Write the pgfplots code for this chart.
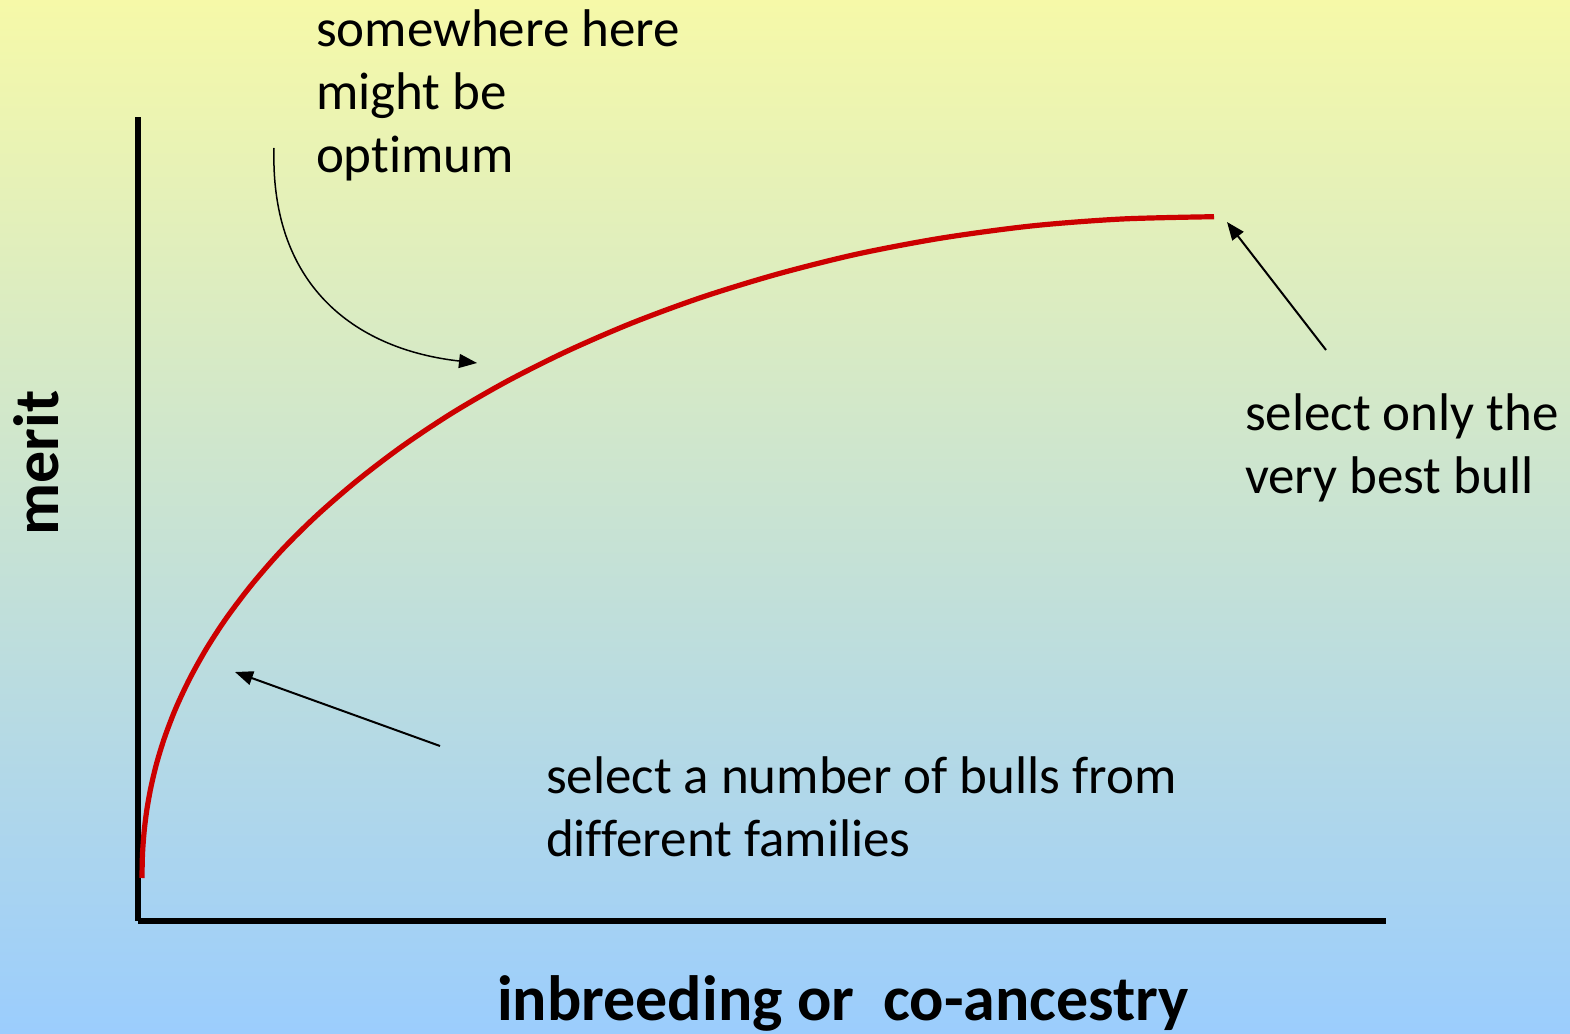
\documentclass[border=0pt]{standalone}
\usepackage{pgfplots}
\pgfplotsset{compat=1.18}
\usetikzlibrary{arrows.meta}
\usepackage{fontspec}
\setmainfont[Ligatures=NoCommon]{Carlito}
\definecolor{bgtop}{RGB}{246,249,168}
\definecolor{bgbot}{RGB}{155,205,253}
\definecolor{curvered}{RGB}{204,0,0}
\begin{document}
\begin{tikzpicture}
\useasboundingbox (0,0) rectangle (785pt,517pt);
\clip (0,0) rectangle (785pt,517pt);
\shade[top color=bgtop,bottom color=bgbot] (0,0) rectangle (785pt,517pt);
\begin{axis}[at={(69pt,56.5pt)}, anchor=south west, scale only axis,
  width=624pt, height=402pt, xmin=0, xmax=1248, ymin=0, ymax=804,
  axis x line=bottom, axis y line=left,
  x axis line style={-}, y axis line style={-},
  axis line style={line width=3pt, black},
  ticks=none, clip=false]
\addplot[curvered, line width=2.6pt, smooth] coordinates {
(4,43) (4.3,61.4) (5,75.5) (6.5,93) (9,112.2) (13,134.2) (19,159)
(27,184.7) (38,213.2) (52,242.9) (69,273.3) (89,303.8) (114,336.7)
(144,371.1) (179,405.7) (219,440.3) (264,474.6) (314,507.9) (369,539.7)
(429,569.8) (494,598) (564,623.8) (639,646.8) (719,666.9) (804,683)
(894,695.1) (984,702) (1076,704.3)};
\draw[line width=1pt, -{Triangle[length=9pt,width=7pt]}] (axis cs:1188,571) -- (axis cs:1089,699);
\draw[line width=1pt, -{Triangle[length=9pt,width=7pt]}] (axis cs:302,175) -- (axis cs:97,249);
\draw[line width=0.75pt, -{Triangle[length=9pt,width=7pt]}] (axis cs:136,773) .. controls (axis cs:132,631) and (axis cs:222,571) .. (axis cs:339,558);
\end{axis}
\begin{scope}[every node/.style={inner sep=0pt, outer sep=0pt, font=\fontsize{26.5}{31.75}\selectfont}]
\node[anchor=base west] at (158pt,493.5pt) {somewhere here};
\node[anchor=base west] at (158pt,462pt) {might be};
\node[anchor=base west] at (158pt,430.5pt) {optimum};
\node[anchor=base west] at (622.5pt,301.5pt) {select only the};
\node[anchor=base west] at (622.5pt,270pt) {very best bull};
\node[anchor=base west] at (273pt,120pt) {select a number of bulls from};
\node[anchor=base west] at (273pt,88.5pt) {different families};
\end{scope}
\node[inner sep=0pt, rotate=90, anchor=base, font=\fontsize{32}{38}\selectfont\bfseries] at (29pt,285.5pt) {merit};
\node[inner sep=0pt, anchor=base, font=\fontsize{32}{38}\selectfont\bfseries] at (421.5pt,6.5pt) {inbreeding or\ \ co-ancestry};
\end{tikzpicture}
\end{document}
